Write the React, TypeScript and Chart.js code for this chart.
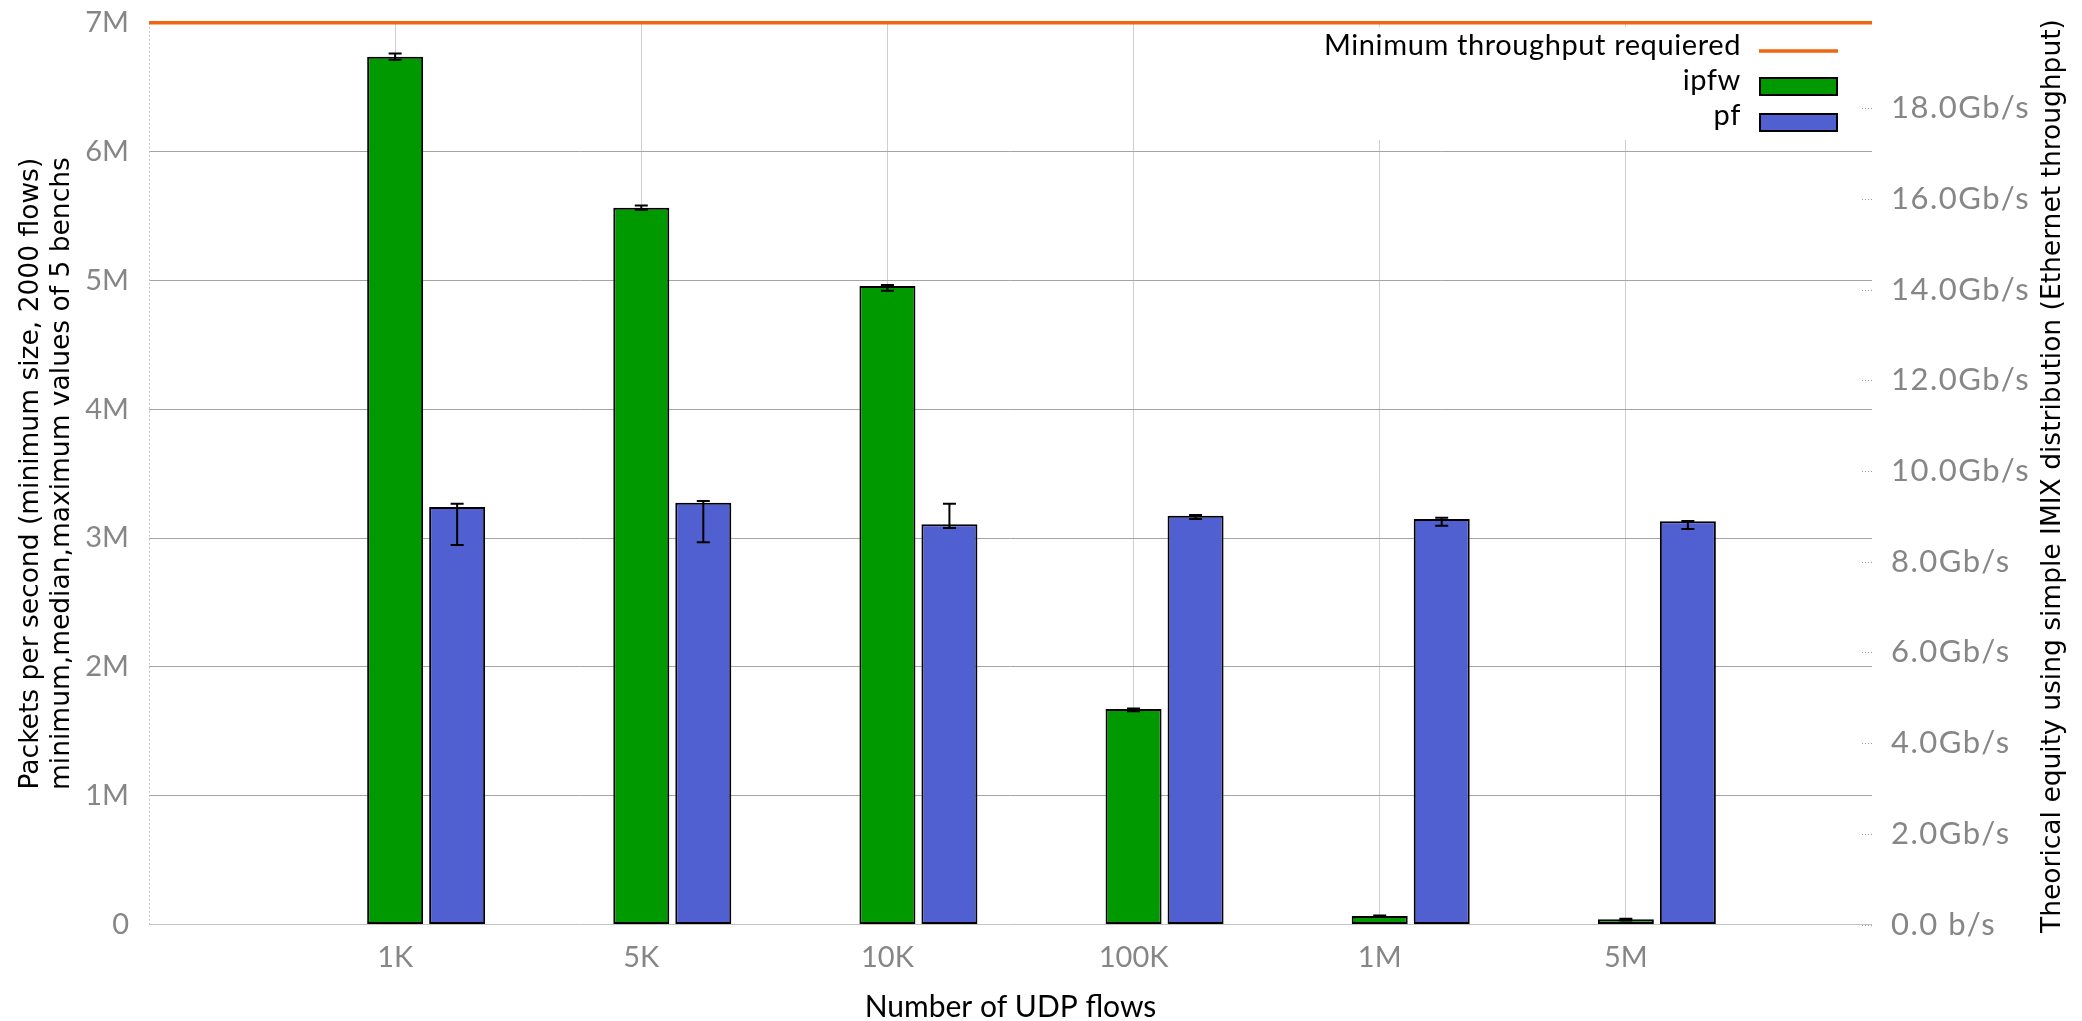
import React, { useEffect, useRef } from 'react';
import { Chart, registerables } from 'chart.js';

Chart.register(...registerables);

// Number of concurrent UDP flows on the x axis
const FLOW_COUNTS = ['1K', '5K', '10K', '100K', '1M', '5M'];

// Packets per second in millions: median, minimum and maximum of 5 benchs
const IPFW_MEDIAN = [6.736, 5.564, 4.956, 1.673, 0.066, 0.04];
const IPFW_MIN = [6.712, 5.548, 4.92, 1.655, 0.06, 0.032];
const IPFW_MAX = [6.76, 5.582, 4.964, 1.677, 0.07, 0.045];
const PF_MEDIAN = [3.241, 3.274, 3.106, 3.173, 3.148, 3.13];
const PF_MIN = [2.946, 2.967, 3.078, 3.148, 3.096, 3.07];
const PF_MAX = [3.266, 3.287, 3.266, 3.178, 3.158, 3.133];

// Target rate in millions of packets per second
const REQUIRED_MPPS = 7;

const PPS_TICKS = [0, 1, 2, 3, 4, 5, 6, 7];
const PPS_TICK_LABELS = ['0', '1M', '2M', '3M', '4M', '5M', '6M', '7M'];
const GBPS_TICKS = [0, 2, 4, 6, 8, 10, 12, 14, 16, 18];
const GBPS_TICK_LABELS = [
  '0.0 b/s', '2.0Gb/s', '4.0Gb/s', '6.0Gb/s', '8.0Gb/s',
  '10.0Gb/s', '12.0Gb/s', '14.0Gb/s', '16.0Gb/s', '18.0Gb/s',
];

// Gb/s on the wire for 1 Mpps with a simple IMIX packet size distribution
const GBPS_PER_MPPS = 2.841;

const GREEN = '#009a00';
const BLUE = '#5060d0';
const ORANGE = '#f0650e';
const TICK_GREY = '#868686';
const TICK_FONT = { family: 'Lato', size: 29 };
const TITLE_FONT = '26.5px "DejaVu Sans"';

const W = 2082;
const H = 1021;
const AREA = { left: 149, right: 1872, top: 22.7, bottom: 924.5 };

// Empty slot at both ends of the category axis, so the ticks sit one step in
const pad = (values: (number | null)[]) => [null, ...values, null];

const errorBars = {
  id: 'errorBars',
  afterDatasetsDraw(chart: any) {
    const { ctx } = chart;
    const y = chart.scales.y;
    chart.data.datasets.forEach((ds: any, di: number) => {
      if (!ds.errorMin) return;
      const meta = chart.getDatasetMeta(di);
      meta.data.forEach((bar: any, i: number) => {
        const lo = ds.errorMin[i];
        const hi = ds.errorMax[i];
        if (lo == null || hi == null) return;
        const x = bar.x;
        const yl = y.getPixelForValue(lo);
        const yh = y.getPixelForValue(hi);
        ctx.save();
        ctx.strokeStyle = '#000';
        ctx.lineWidth = 2;
        ctx.beginPath();
        ctx.moveTo(x, yl);
        ctx.lineTo(x, yh);
        ctx.moveTo(x - 6.5, yl);
        ctx.lineTo(x + 6.5, yl);
        ctx.moveTo(x - 6.5, yh);
        ctx.lineTo(x + 6.5, yh);
        ctx.stroke();
        ctx.restore();
      });
    });
  },
};

const keyBox = {
  id: 'keyBox',
  beforeDatasetsDraw(chart: any) {
    const { ctx, chartArea } = chart;
    ctx.save();
    // dotted left frame
    ctx.strokeStyle = '#c4c4c4';
    ctx.lineWidth = 1;
    ctx.setLineDash([2, 2]);
    ctx.beginPath();
    ctx.moveTo(chartArea.left + 0.5, chartArea.top);
    ctx.lineTo(chartArea.left + 0.5, chartArea.bottom);
    ctx.stroke();
    ctx.setLineDash([]);

    const [, ipfw, pf, required] = chart.data.datasets;
    ctx.fillStyle = '#fff';
    ctx.fillRect(1305, 27, 563, 113);
    ctx.font = '29px Lato';
    (ctx as any).letterSpacing = '0.6px';
    ctx.fillStyle = '#000';
    ctx.textAlign = 'right';
    ctx.textBaseline = 'alphabetic';
    const textRight = 1741;
    const sampleLeft = 1759;
    const sampleWidth = 79;

    ctx.fillText(required.label, textRight, 55);
    ctx.strokeStyle = required.borderColor;
    ctx.lineWidth = 3.5;
    ctx.beginPath();
    ctx.moveTo(sampleLeft, 51);
    ctx.lineTo(sampleLeft + sampleWidth, 51);
    ctx.stroke();

    const boxes = [
      { ds: ipfw, base: 90, top: 77 },
      { ds: pf, base: 125, top: 113 },
    ];
    boxes.forEach(({ ds, base, top }) => {
      ctx.fillStyle = '#000';
      ctx.fillText(ds.label, textRight, base);
      ctx.fillStyle = ds.backgroundColor;
      ctx.fillRect(sampleLeft, top, sampleWidth, 19);
      ctx.strokeStyle = '#000';
      ctx.lineWidth = 2;
      ctx.strokeRect(sampleLeft + 1, top + 1, sampleWidth - 2, 17);
    });
    ctx.restore();
  },
};

const axisTitles = {
  id: 'axisTitles',
  afterDraw(chart: any) {
    const { ctx, chartArea } = chart;
    ctx.save();
    ctx.fillStyle = '#000';
    ctx.textAlign = 'center';
    ctx.textBaseline = 'middle';

    const midY = (chartArea.top + chartArea.bottom) / 2;
    const rotated = (text: string, x: number, y: number) => {
      ctx.save();
      ctx.translate(x, y);
      ctx.rotate(-Math.PI / 2);
      ctx.fillText(text, 0, 0);
      ctx.restore();
    };
    ctx.font = TITLE_FONT;
    rotated('Packets per second (minimum size, 2000 flows)', 31, midY);
    rotated('minimum,median,maximum values of 5 benchs', 62, midY);
    rotated('Theorical equity using simple IMIX distribution (Ethernet throughput)', 2053, 476);

    ctx.font = '30px Lato';
    ctx.fillText('Number of UDP flows', (chartArea.left + chartArea.right) / 2, 1007);

    // throughput axis: short dotted tics inside the plot, labels outside
    const y1 = chart.scales.y1;
    ctx.font = '31px Lato';
    (ctx as any).letterSpacing = '1.5px';
    ctx.textAlign = 'left';
    ctx.fillStyle = TICK_GREY;
    ctx.strokeStyle = '#9a9a9a';
    ctx.lineWidth = 1;
    ctx.setLineDash([1, 2]);
    GBPS_TICKS.forEach((v, i) => {
      const py = y1.getPixelForValue(v);
      ctx.beginPath();
      ctx.moveTo(chartArea.right - 10, Math.round(py) + 0.5);
      ctx.lineTo(chartArea.right, Math.round(py) + 0.5);
      ctx.stroke();
      ctx.fillText(GBPS_TICK_LABELS[i], chartArea.right + 19, py);
    });
    ctx.restore();
  },
};

// fixed box sizes, and no extra room reserved for half-height end labels
const fixHeight = (h: number) => (s: any) => {
  s.height = h;
  s.paddingLeft = 0;
  s.paddingRight = 0;
};
const fixWidth = (w: number) => (s: any) => {
  s.width = w;
  s.paddingTop = 0;
  s.paddingBottom = 0;
};

export default function App() {
  const canvasRef = useRef<HTMLCanvasElement | null>(null);

  useEffect(() => {
    document.body.style.margin = '0';
    document.body.style.overflow = 'hidden';
    const canvas = canvasRef.current;
    if (!canvas) return;
    const labels = ['', ...FLOW_COUNTS, ''];

    const chart = new Chart(canvas, {
      type: 'bar',
      data: {
        labels,
        datasets: [
          // keeps the left slot of each group free so ipfw sits on the tick
          { label: '', data: labels.map(() => null), backgroundColor: 'rgba(0,0,0,0)' },
          {
            label: 'ipfw',
            data: pad(IPFW_MEDIAN),
            backgroundColor: GREEN,
            borderColor: '#000',
            borderWidth: 2,
            borderSkipped: false,
            errorMin: pad(IPFW_MIN),
            errorMax: pad(IPFW_MAX),
          } as any,
          {
            label: 'pf',
            data: pad(PF_MEDIAN),
            backgroundColor: BLUE,
            borderColor: '#000',
            borderWidth: 2,
            borderSkipped: false,
            errorMin: pad(PF_MIN),
            errorMax: pad(PF_MAX),
          } as any,
          {
            type: 'line',
            label: 'Minimum throughput requiered',
            data: labels.map(() => REQUIRED_MPPS),
            borderColor: ORANGE,
            borderWidth: 3.5,
            pointRadius: 0,
            clip: false,
          } as any,
        ],
      },
      options: {
        responsive: false,
        animation: false,
        devicePixelRatio: 1,
        categoryPercentage: 0.7557,
        barPercentage: 0.9032,
        layout: { autoPadding: false, padding: { top: AREA.top, left: 0, right: 0, bottom: 0 } },
        plugins: { legend: { display: false }, tooltip: { enabled: false } },
        scales: {
          x: {
            type: 'category',
            offset: false,
            grid: {
              offset: false,
              drawTicks: false,
              lineWidth: 1,
              color: (c: any) =>
                c.index === 0 || c.index === labels.length - 1 ? 'rgba(0,0,0,0)' : '#cfcfcf',
            },
            border: { display: false },
            ticks: { color: TICK_GREY, font: TICK_FONT, padding: 16, autoSkip: false, maxRotation: 0 },
            afterFit: fixHeight(H - AREA.bottom),
          },
          y: {
            type: 'linear',
            position: 'left',
            min: 0,
            max: REQUIRED_MPPS,
            afterBuildTicks: (s: any) => {
              s.ticks = PPS_TICKS.map((v) => ({ value: v }));
            },
            grid: {
              drawTicks: false,
              lineWidth: 1,
              color: (c: any) =>
                c.tick.value === 0 ? '#c4c4c4' : c.tick.value === REQUIRED_MPPS ? 'rgba(0,0,0,0)' : '#a4a4a4',
            },
            border: { display: false },
            ticks: {
              color: TICK_GREY,
              font: TICK_FONT,
              padding: 20,
              callback: (v: any) => PPS_TICK_LABELS[PPS_TICKS.indexOf(Number(v))],
            },
            afterFit: fixWidth(AREA.left),
          },
          y1: {
            type: 'linear',
            position: 'right',
            min: 0,
            max: REQUIRED_MPPS * GBPS_PER_MPPS,
            afterBuildTicks: (s: any) => {
              s.ticks = GBPS_TICKS.map((v) => ({ value: v }));
            },
            grid: { display: false, drawTicks: false },
            border: { display: false },
            ticks: { display: false },
            afterFit: fixWidth(W - AREA.right),
          },
        },
      },
      plugins: [keyBox, errorBars, axisTitles],
    } as any);

    return () => chart.destroy();
  }, []);

  return (
    <div style={{ width: W, height: H }}>
      <canvas ref={canvasRef} width={W} height={H} style={{ display: 'block' }} />
    </div>
  );
}
